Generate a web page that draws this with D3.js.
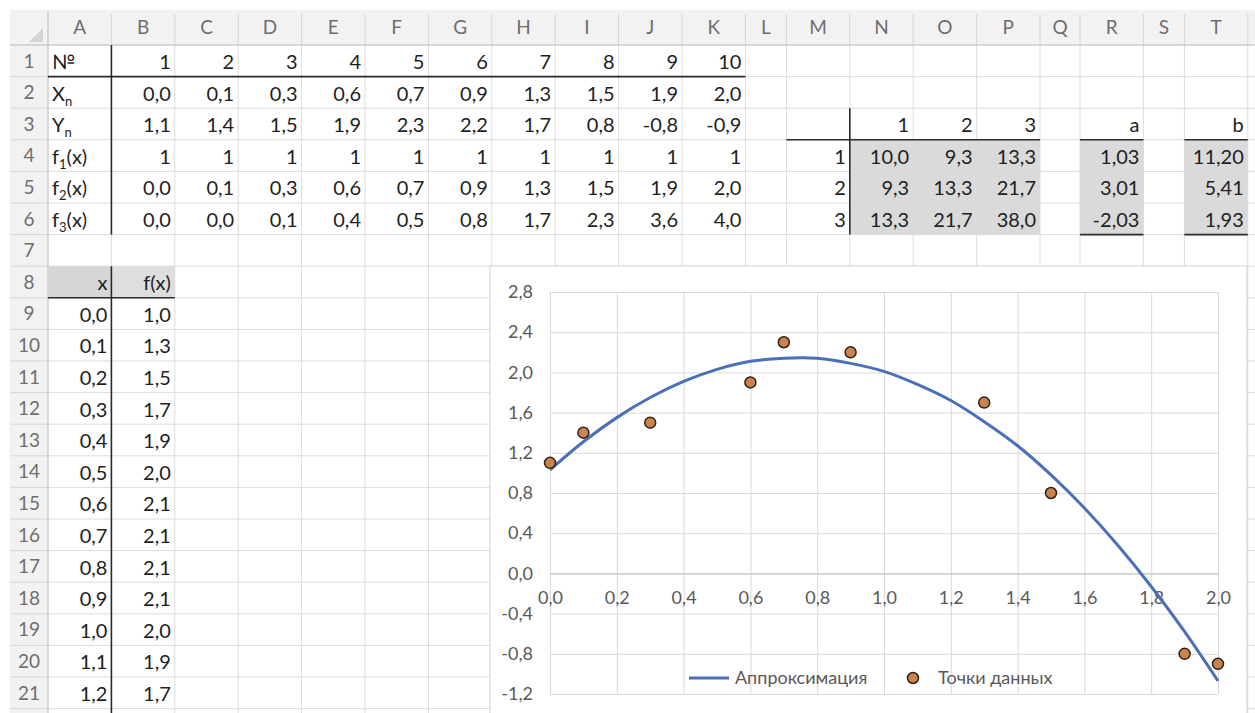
<!DOCTYPE html>
<html>
<head>
<meta charset="utf-8">
<script src="https://cdn.jsdelivr.net/npm/d3@7"></script>
<style>
    body { margin: 0; background: #fff; }
    svg { display: block; font-family: Lato, 'Open Sans', sans-serif; }
    .cell-text { font-size: 20px; fill: #1e1e1e; }
    .head-text { font-size: 19px; fill: #6e6e6e; }
    .axis text { font-size: 18px; fill: #595959; font-family: Lato, 'Open Sans', sans-serif; }
    .legend-text { font-size: 18px; fill: #595959; }
</style>
</head>
<body>
<div id="sheet"></div>
<script>
// sheet contents
const columnLetters = ['A', 'B', 'C', 'D', 'E', 'F', 'G', 'H', 'I', 'J', 'K', 'L', 'M', 'N', 'O', 'P', 'Q', 'R', 'S', 'T', 'U']
const pointNumbers = [1, 2, 3, 4, 5, 6, 7, 8, 9, 10]
const xValues = [0.0, 0.1, 0.3, 0.6, 0.7, 0.9, 1.3, 1.5, 1.9, 2.0]
const yValues = [1.1, 1.4, 1.5, 1.9, 2.3, 2.2, 1.7, 0.8, -0.8, -0.9]
const f1Values = [1, 1, 1, 1, 1, 1, 1, 1, 1, 1]
const f2Values = [0.0, 0.1, 0.3, 0.6, 0.7, 0.9, 1.3, 1.5, 1.9, 2.0]
const f3Values = [0.0, 0.0, 0.1, 0.4, 0.5, 0.8, 1.7, 2.3, 3.6, 4.0]
const rowLabels = [
    { main: '№' },
    { main: 'X', sub: 'n' },
    { main: 'Y', sub: 'n' },
    { main: 'f', sub: '1', tail: '(x)' },
    { main: 'f', sub: '2', tail: '(x)' },
    { main: 'f', sub: '3', tail: '(x)' }
]
const matrixIndex = [1, 2, 3]
const matrixRows = [
    [10.0, 9.3, 13.3],
    [9.3, 13.3, 21.7],
    [13.3, 21.7, 38.0]
]
const aValues = [1.03, 3.01, -2.03]
const bValues = [11.20, 5.41, 1.93]
const tableX = [0.0, 0.1, 0.2, 0.3, 0.4, 0.5, 0.6, 0.7, 0.8, 0.9, 1.0, 1.1, 1.2]
const tableF = [1.0, 1.3, 1.5, 1.7, 1.9, 2.0, 2.1, 2.1, 2.1, 2.1, 2.0, 1.9, 1.7]

// chart series
const fitX = [0.0, 0.1, 0.2, 0.3, 0.4, 0.5, 0.6, 0.7, 0.8, 0.9, 1.0, 1.1, 1.2, 1.3, 1.4, 1.5, 1.6, 1.7, 1.8, 1.9, 2.0]
const fitY = [1.03, 1.31, 1.55, 1.75, 1.91, 2.03, 2.11, 2.14, 2.14, 2.09, 2.01, 1.88, 1.72, 1.51, 1.27, 0.98, 0.65, 0.28, -0.13, -0.58, -1.07]
const xTicks = [0.0, 0.2, 0.4, 0.6, 0.8, 1.0, 1.2, 1.4, 1.6, 1.8, 2.0]
const yTicks = [-1.2, -0.8, -0.4, 0.0, 0.4, 0.8, 1.2, 1.6, 2.0, 2.4, 2.8]
const legendLabels = ['Аппроксимация', 'Точки данных']

const ru = d3.formatLocale({ decimal: ',', thousands: ' ', grouping: [3], currency: ['', ' ₽'], minus: '-' })
const fmt1 = ru.format('.1f')
const fmt2 = ru.format('.2f')

class Sheet {
    constructor(_config) {
        this.config = {
            parentElement: _config.parentElement,
            containerWidth: 1255,
            containerHeight: 713,
            left: 10,
            top: 10,
            rowHeaderWidth: 38,
            headerHeight: 35,
            rowHeight: 31.6,
            rowCount: 21
        }
        this.widths = { L: 41, Q: 40, S: 41 }
        this.initVis()
    }

    initVis() {
        let vis = this
        const c = vis.config

        // column edges
        vis.colLeft = {}
        let x = c.left + c.rowHeaderWidth
        columnLetters.forEach(l => {
            vis.colLeft[l] = x
            x += vis.widths[l] || 63.4
        })
        vis.colRight = l => vis.colLeft[l] + (vis.widths[l] || 63.4)
        vis.rowTop = r => c.top + c.headerHeight + (r - 1) * c.rowHeight

        vis.svg = d3.select(c.parentElement).append('svg')
            .attr('width', c.containerWidth)
            .attr('height', c.containerHeight)

        vis.gridG = vis.svg.append('g')
        vis.fillG = vis.svg.append('g')
        vis.textG = vis.svg.append('g')
        vis.borderG = vis.svg.append('g')
        vis.chartG = vis.svg.append('g')

        vis.renderGrid()
        vis.renderCells()
        vis.renderBorders()
    }

    renderGrid() {
        let vis = this
        const c = vis.config
        const gridTop = c.top + c.headerHeight
        const rows = d3.range(1, c.rowCount + 2)

        // headers
        vis.gridG.append('rect')
            .attr('x', c.left).attr('y', c.top)
            .attr('width', c.containerWidth - c.left).attr('height', c.headerHeight)
            .attr('fill', '#f2f2f2')
        vis.gridG.append('rect')
            .attr('x', c.left).attr('y', gridTop)
            .attr('width', c.rowHeaderWidth).attr('height', c.containerHeight - gridTop)
            .attr('fill', '#f2f2f2')
        vis.gridG.append('path')
            .attr('d', `M${c.left + 33},${c.top + 18}L${c.left + 33},${c.top + 32}L${c.left + 19},${c.top + 32}Z`)
            .attr('fill', '#d4d4d4')

        // cell gridlines
        vis.gridG.selectAll('.vline')
            .data(columnLetters)
            .join('line')
            .attr('class', 'vline')
            .attr('x1', d => vis.colLeft[d]).attr('x2', d => vis.colLeft[d])
            .attr('y1', gridTop).attr('y2', c.containerHeight)
            .attr('stroke', '#dcdcdc')
        vis.gridG.selectAll('.hline')
            .data(rows)
            .join('line')
            .attr('class', 'hline')
            .attr('x1', c.left + c.rowHeaderWidth).attr('x2', c.containerWidth)
            .attr('y1', d => vis.rowTop(d)).attr('y2', d => vis.rowTop(d))
            .attr('stroke', '#dcdcdc')

        // header separators
        vis.gridG.selectAll('.hsep')
            .data(columnLetters)
            .join('line')
            .attr('class', 'hsep')
            .attr('x1', d => vis.colLeft[d]).attr('x2', d => vis.colLeft[d])
            .attr('y1', c.top + 4).attr('y2', gridTop)
            .attr('stroke', '#d6d6d6')
        vis.gridG.selectAll('.rsep')
            .data(rows)
            .join('line')
            .attr('class', 'rsep')
            .attr('x1', c.left).attr('x2', c.left + c.rowHeaderWidth)
            .attr('y1', d => vis.rowTop(d)).attr('y2', d => vis.rowTop(d))
            .attr('stroke', '#d6d6d6')
        vis.gridG.append('line')
            .attr('x1', c.left).attr('x2', c.containerWidth)
            .attr('y1', gridTop).attr('y2', gridTop)
            .attr('stroke', '#c6c6c6')
        vis.gridG.append('line')
            .attr('x1', c.left + c.rowHeaderWidth).attr('x2', c.left + c.rowHeaderWidth)
            .attr('y1', c.top).attr('y2', c.containerHeight)
            .attr('stroke', '#c6c6c6')

        vis.gridG.selectAll('.col-letter')
            .data(columnLetters.slice(0, 20))
            .join('text')
            .attr('class', 'head-text col-letter')
            .attr('x', d => (vis.colLeft[d] + vis.colRight(d)) / 2)
            .attr('y', c.top + c.headerHeight / 2)
            .attr('dy', '0.36em')
            .attr('text-anchor', 'middle')
            .text(d => d)
        vis.gridG.selectAll('.row-number')
            .data(d3.range(1, c.rowCount + 1))
            .join('text')
            .attr('class', 'head-text row-number')
            .attr('x', c.left + c.rowHeaderWidth / 2)
            .attr('y', d => vis.rowTop(d) + c.rowHeight / 2)
            .attr('dy', '0.36em')
            .attr('text-anchor', 'middle')
            .text(d => d)
    }

    fill(col, row, color, colEnd, rowEnd) {
        let vis = this
        const x0 = vis.colLeft[col], x1 = vis.colRight(colEnd || col)
        const y0 = vis.rowTop(row), y1 = vis.rowTop((rowEnd || row) + 1)
        vis.fillG.append('rect')
            .attr('x', x0).attr('y', y0)
            .attr('width', x1 - x0).attr('height', y1 - y0)
            .attr('fill', color)
    }

    cell(col, row, value, align) {
        let vis = this
        const t = vis.textG.append('text')
            .attr('class', 'cell-text')
            .attr('x', align === 'left' ? vis.colLeft[col] + 4 : vis.colRight(col) - 4)
            .attr('y', vis.rowTop(row) + vis.config.rowHeight / 2 + 1)
            .attr('dy', '0.36em')
            .attr('text-anchor', align === 'left' ? 'start' : 'end')
        if (typeof value === 'object') {
            t.append('tspan').text(value.main)
            if (value.sub) t.append('tspan').attr('font-size', 13).attr('dy', 5).text(value.sub)
            if (value.tail) t.append('tspan').attr('dy', -5).text(value.tail)
        } else {
            t.text(value)
        }
    }

    renderCells() {
        let vis = this
        const dataCols = columnLetters.slice(1, 11)
        const rows = [pointNumbers.map(String), xValues.map(fmt1), yValues.map(fmt1),
            f1Values.map(String), f2Values.map(fmt1), f3Values.map(fmt1)]

        rowLabels.forEach((label, i) => vis.cell('A', i + 1, label, 'left'))
        rows.forEach((vals, i) => vals.forEach((v, j) => vis.cell(dataCols[j], i + 1, v)))

        // matrix block
        vis.fill('N', 4, '#dadada', 'P', 6)
        vis.fill('R', 4, '#dadada', 'R', 6)
        vis.fill('T', 4, '#dadada', 'T', 6)
        matrixIndex.forEach((m, i) => {
            vis.cell(['N', 'O', 'P'][i], 3, String(m))
            vis.cell('M', 4 + i, String(m))
        })
        matrixRows.forEach((r, i) => r.forEach((v, j) => vis.cell(['N', 'O', 'P'][j], 4 + i, fmt1(v))))
        vis.cell('R', 3, 'a')
        vis.cell('T', 3, 'b')
        aValues.forEach((v, i) => vis.cell('R', 4 + i, fmt2(v)))
        bValues.forEach((v, i) => vis.cell('T', 4 + i, fmt2(v)))

        // tabulated function
        vis.fill('A', 8, '#d6d6d6')
        vis.fill('B', 8, '#dedede')
        vis.cell('A', 8, 'x')
        vis.cell('B', 8, 'f(x)')
        tableX.forEach((v, i) => vis.cell('A', 9 + i, fmt1(v)))
        tableF.forEach((v, i) => vis.cell('B', 9 + i, fmt1(v)))
    }

    line(x1, y1, x2, y2) {
        this.borderG.append('line')
            .attr('x1', x1).attr('y1', y1).attr('x2', x2).attr('y2', y2)
            .attr('stroke', '#2b2b2b').attr('stroke-width', 1.6)
    }

    renderBorders() {
        let vis = this
        const L = vis.colLeft, R = vis.colRight, T = vis.rowTop
        vis.line(R('A'), T(1), R('A'), T(7))
        vis.line(L['A'], T(2), R('K'), T(2))
        vis.line(R('M'), T(3), R('M'), T(7))
        vis.line(L['M'], T(4), R('P'), T(4))
        vis.line(L['R'], T(4), R('R'), T(4))
        vis.line(L['T'], T(4), R('T'), T(4))
        vis.line(L['R'], T(7), R('R'), T(7))
        vis.line(L['T'], T(7), R('T'), T(7))
        vis.line(L['A'], T(9), R('B'), T(9))
        vis.line(R('A'), T(8), R('A'), vis.config.containerHeight)
    }
}

class FitChart {
    constructor(_config) {
        this.config = {
            svg: _config.svg,
            box: { x: 490, y: 266, width: 757, height: 470 },
            plot: { left: 550, right: 1218, top: 292, bottom: 694 }
        }
        this.initVis()
    }

    initVis() {
        let vis = this
        const p = vis.config.plot
        const b = vis.config.box

        vis.chart = vis.config.svg.append('g')
        vis.chart.append('rect')
            .attr('x', b.x).attr('y', b.y)
            .attr('width', b.width).attr('height', b.height)
            .attr('fill', '#fff')
            .attr('stroke', '#d4d4d4')

        vis.xScale = d3.scaleLinear().domain([0, 2]).range([p.left, p.right])
        vis.yScale = d3.scaleLinear().domain([-1.2, 2.8]).range([p.bottom, p.top])

        // vertical gridlines
        vis.chart.append('g')
            .attr('transform', `translate(0,${p.bottom})`)
            .call(d3.axisBottom(vis.xScale).tickValues(xTicks).tickSize(-(p.bottom - p.top)).tickFormat(''))
            .call(g => g.select('.domain').remove())
            .call(g => g.selectAll('line').attr('stroke', '#d9d9d9'))

        // horizontal gridlines with labels
        vis.chart.append('g')
            .attr('class', 'axis')
            .attr('transform', `translate(${p.left},0)`)
            .call(d3.axisLeft(vis.yScale).tickValues(yTicks).tickSize(-(p.right - p.left)).tickPadding(17).tickFormat(fmt1))
            .call(g => g.select('.domain').remove())
            .call(g => g.selectAll('line').attr('stroke', '#d9d9d9'))

        // horizontal axis crossing at zero
        vis.chart.append('g')
            .attr('class', 'axis')
            .attr('transform', `translate(0,${vis.yScale(0)})`)
            .call(d3.axisBottom(vis.xScale).tickValues(xTicks).tickSize(0).tickPadding(18).tickFormat(fmt1))
            .call(g => g.select('.domain').attr('stroke', '#bfbfbf'))

        vis.renderVis()
    }

    renderVis() {
        let vis = this
        const fit = fitX.map((x, i) => ({ x: x, y: fitY[i] }))
        const pts = xValues.map((x, i) => ({ x: x, y: yValues[i] }))

        vis.chart.append('path')
            .datum(fit)
            .attr('fill', 'none')
            .attr('stroke', '#4a70b8')
            .attr('stroke-width', 3)
            .attr('d', d3.line().x(d => vis.xScale(d.x)).y(d => vis.yScale(d.y)).curve(d3.curveCatmullRom))

        vis.chart.selectAll('.pt')
            .data(pts)
            .join('circle')
            .attr('class', 'pt')
            .attr('cx', d => vis.xScale(d.x))
            .attr('cy', d => vis.yScale(d.y))
            .attr('r', 5.5)
            .attr('fill', '#c98350')
            .attr('stroke', '#2e2118')
            .attr('stroke-width', 1.5)

        // legend
        const lg = vis.chart.append('g').attr('transform', 'translate(689,678)')
        lg.append('line')
            .attr('x1', 0).attr('x2', 40)
            .attr('stroke', '#4a70b8').attr('stroke-width', 3)
        lg.append('text')
            .attr('class', 'legend-text')
            .attr('x', 46).attr('dy', '0.32em')
            .text(legendLabels[0])
        lg.append('circle')
            .attr('cx', 224).attr('r', 5.5)
            .attr('fill', '#c98350').attr('stroke', '#2e2118').attr('stroke-width', 1.5)
        lg.append('text')
            .attr('class', 'legend-text')
            .attr('x', 249).attr('dy', '0.32em')
            .text(legendLabels[1])
    }
}

const sheet = new Sheet({ parentElement: '#sheet' })
const chart = new FitChart({ svg: sheet.chartG })
</script>
</body>
</html>
